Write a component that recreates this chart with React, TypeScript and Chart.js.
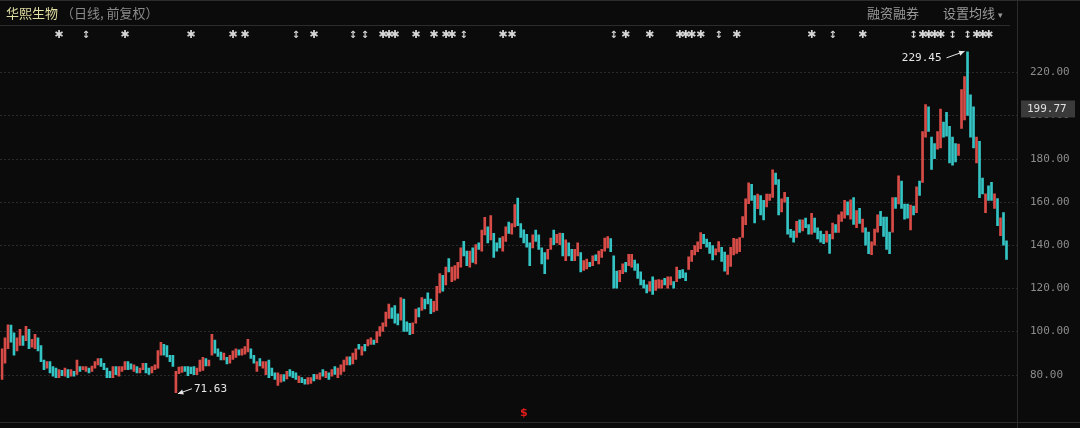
import React, { useEffect, useRef } from 'react';
import { Chart, registerables } from 'chart.js';

Chart.register(...registerables);

// ---- data ----
const opens = [
  77.8, 85.3, 92, 103, 99.4, 91, 93.5, 98, 95.7, 101,
  92.7, 92, 97, 93.5, 86.8, 83, 86, 83.8, 83, 78.6,
  82, 79.3, 82.3, 79.3, 81.5, 80.1, 83.8, 82.3, 81.5, 83,
  81.5, 83, 84.5, 87.5, 85.3, 83, 81.5, 78.6, 83.8, 79.3,
  81.5, 82.3, 86, 85, 81.5, 83.8, 80.8, 82.3, 85.3, 83,
  80.8, 82.3, 83, 89, 94, 93.5, 89, 89, 71.63, 80.5,
  81, 83.8, 83.8, 83.5, 83.8, 80, 81.5, 82, 87.5, 84,
  89, 96, 92, 90.5, 86.8, 88, 85.3, 87, 88, 91.5,
  89, 89.5, 90.5, 92, 89, 81.5, 87.5, 83, 80, 86.8,
  83, 80.8, 75, 76.5, 80, 78, 82.3, 81.5, 80.8, 76.3,
  78.6, 77.8, 75.6, 76, 80.1, 78, 77.8, 82.3, 78.6, 80.8,
  79.3, 83.8, 78.6, 80.1, 81.5, 84.5, 88.2, 85, 87, 94,
  89, 94, 93.3, 94, 96, 94.8, 97.8, 100, 102.3, 106,
  111, 112, 108.2, 105.2, 115, 104.5, 103.8, 99, 103.8, 111,
  109.7, 115, 117.9, 115, 109, 109.7, 117.9, 126, 121.6, 133.8,
  123.1, 123.8, 124.6, 129.8, 141.7, 137.2, 129.8, 138.7, 131.3, 141,
  137.2, 144.7, 148.4, 142.4, 145.4, 141, 143.2, 137.2, 141.7, 150.6,
  145, 148.4, 161.8, 150, 147, 145, 141, 138.7, 146.9, 144.7,
  138.7, 136.5, 133.5, 138, 146.9, 141, 140.2, 145.4, 132.8, 141,
  138, 132.8, 135, 136.5, 128.3, 129, 132, 130.5, 135.5, 131.3,
  134.3, 137.2, 138.7, 143, 135, 128, 123.1, 126.8, 132, 130.5,
  129.8, 133, 131.3, 127.6, 123.8, 121.6, 118.6, 125.3, 119, 120,
  120.1, 124.6, 120.1, 121.6, 123.1, 123.1, 128.3, 128.7, 127.2, 128.7,
  132.4, 135.4, 137, 138.3, 145, 142.8, 141.3, 139.8, 135.4, 136.8,
  139, 136.8, 126.4, 130.1, 135.4, 136.1, 137, 143.5, 149.5, 159.2,
  168.1, 162.9, 156.9, 162.9, 160.7, 157.7, 160.7, 162.1, 173.3, 170.3,
  155.4, 159.9, 162.1, 147.3, 146.5, 143.5, 151.7, 146.5, 152.5, 149.5,
  145, 152.5, 148, 146.5, 145, 141.3, 145, 142.8, 149.5, 145.8,
  151, 152.5, 160, 152, 162, 148, 157, 146, 148, 146,
  135.5, 140, 146, 155.6, 153, 153, 146, 146, 162, 159,
  169.6, 159, 159, 147, 158, 155, 169.6, 169, 190, 204,
  190, 187, 184.4, 185, 197, 201.5, 195, 190, 187, 181.5,
  194, 198, 229.45, 209.6, 204, 178, 188, 171, 155, 167.4,
  169, 157, 161.5, 144.4, 155, 142,
];

const closes = [
  92, 97, 103.1, 95, 89, 97, 101, 93.5, 102.4, 92,
  96.4, 98.7, 91, 86, 82.3, 86, 80.8, 79.3, 78.6, 82.3,
  79.5, 83, 78.6, 82.3, 79.3, 86.8, 81.5, 83.8, 83.8, 80.8,
  84, 86, 87.5, 83.8, 82.3, 78.6, 78.6, 83.8, 80, 83.8,
  83.8, 86, 82.3, 82.5, 84.5, 80.8, 83, 85.3, 80.8, 80.1,
  83.8, 84.5, 91.2, 95, 89, 88.2, 86, 83.8, 81.5, 83.5,
  83.8, 81.5, 79.5, 80.5, 80, 83, 86.8, 88, 84, 86.8,
  98.7, 90, 88.5, 86.8, 90, 85, 89, 91, 92, 89,
  92, 93, 96.4, 87.5, 85.3, 86, 84, 86, 86, 78.6,
  79.5, 77.8, 80.8, 80, 77, 81.5, 79.3, 78.6, 77.8, 79.3,
  76.3, 75.6, 78.6, 78.6, 77.1, 80, 80.8, 79.3, 81.5, 77.8,
  82.3, 80.1, 83, 84.5, 86.8, 88.2, 84.5, 90, 92, 91.8,
  93, 91, 96.3, 97, 94, 100, 102.3, 104, 109, 112.7,
  106, 103.8, 103, 115.7, 100, 100, 98.5, 104, 110.4, 106.7,
  115.7, 110.4, 112.7, 108.2, 114, 120.9, 126.8, 118.6, 129.8, 127.6,
  129.8, 130.5, 132, 138.7, 135, 130.5, 137.2, 132, 140.2, 138,
  146.9, 152.9, 141, 153.6, 134.3, 137.2, 138.7, 143.9, 148.4, 145.4,
  149.9, 158.8, 149, 143.5, 141, 139, 130.5, 144.7, 141.7, 138,
  131.3, 126.8, 138, 143.2, 140.2, 145, 145.5, 135, 142.4, 135,
  132.8, 138, 141, 127.6, 132.8, 133.5, 130, 135, 132.8, 137.2,
  138, 143.2, 143.9, 137, 120.1, 120, 128.3, 131.3, 127.6, 135.7,
  135.7, 128.3, 124.6, 121.6, 120.1, 117.9, 123.1, 117.1, 123.8, 124,
  123.8, 121.6, 125.3, 125.3, 120.1, 129.8, 124.6, 124.9, 123.5, 134.6,
  137.6, 139.8, 141.5, 145.8, 140.6, 139, 136.1, 133.1, 138.3, 141.6,
  132.4, 127.9, 135.4, 139, 143.1, 142.8, 143.5, 153.2, 161.4, 168.8,
  160.7, 150.2, 163.6, 154, 151.7, 163.6, 163.6, 174.8, 168.1, 154,
  161.4, 164.4, 145, 143.5, 141.3, 151, 145.8, 151.7, 148, 145,
  154.7, 145.8, 142.8, 141.3, 140.6, 146.5, 136.1, 150.2, 145.8, 154,
  155.4, 160.7, 154, 161, 149.6, 156, 150, 152, 140, 136,
  141.5, 147.4, 154, 149, 144, 138, 136, 162, 157, 172,
  157, 152, 152.5, 158.5, 154, 167, 163, 192.6, 205, 192.6,
  175, 180, 192.6, 203, 190, 190.4, 178, 177, 178.5, 186.7,
  212, 218, 200, 190, 185, 190, 162, 163.7, 163.7, 160.7,
  160.7, 163.7, 149, 152.6, 140, 133.3,
];

const yTicks = [80, 100, 120, 140, 160, 180, 200, 220];
const slotCount = 339;

const markerIdx = [19, 28, 41, 63, 77, 81, 98, 104, 117, 121, 127, 129, 131, 138, 144, 148, 150, 154, 167, 170,
  204, 208, 216, 226, 228, 230, 233, 239, 245, 270, 277, 287, 304, 307, 309, 311, 313, 317, 322, 325, 327, 329];
const markerSym = ['✱', '↕', '✱', '✱', '✱', '✱', '↕', '✱', '↕', '↕', '✱', '✱', '✱', '✱', '✱', '✱', '✱', '↕', '✱', '✱',
  '↕', '✱', '✱', '✱', '✱', '✱', '✱', '↕', '✱', '✱', '↕', '✱', '↕', '✱', '✱', '✱', '✱', '↕', '↕', '✱', '✱', '✱'];

const highIdx = 322;
const highVal = 229.45;
const lowIdx = 58;
const lowVal = 71.63;
const lastPrice = 199.77;
const dollarIdx = 174;

const RED = '#d84c48';
const TEAL = '#35c4c4';
const BG = '#0b0b0b';

function arrow(ctx: CanvasRenderingContext2D, x1: number, y1: number, x2: number, y2: number) {
  ctx.save();
  ctx.strokeStyle = '#e6e6e6';
  ctx.fillStyle = '#e6e6e6';
  ctx.lineWidth = 1;
  ctx.beginPath();
  ctx.moveTo(x1, y1);
  ctx.lineTo(x2, y2);
  ctx.stroke();
  const a = Math.atan2(y2 - y1, x2 - x1);
  const L = 6;
  ctx.beginPath();
  ctx.moveTo(x2, y2);
  ctx.lineTo(x2 - L * Math.cos(a - 0.45), y2 - L * Math.sin(a - 0.45));
  ctx.lineTo(x2 - L * Math.cos(a + 0.45), y2 - L * Math.sin(a + 0.45));
  ctx.closePath();
  ctx.fill();
  ctx.restore();
}

const overlay = {
  id: 'overlay',
  beforeDraw(chart: any) {
    const { ctx, chartArea, scales } = chart;
    const W = chart.width;
    const H = chart.height;
    ctx.save();
    ctx.fillStyle = BG;
    ctx.fillRect(0, 0, W, H);
    ctx.strokeStyle = '#2c2c2c';
    ctx.lineWidth = 1;
    ctx.beginPath();
    ctx.moveTo(0, 0.5); ctx.lineTo(W, 0.5);
    ctx.moveTo(0, 25.5); ctx.lineTo(1010, 25.5);
    ctx.moveTo(0, 422.5); ctx.lineTo(W, 422.5);
    ctx.moveTo(1017.5, 0); ctx.lineTo(1017.5, H);
    ctx.stroke();
    const y = scales.y;
    ctx.strokeStyle = '#4c4c4c';
    ctx.setLineDash([1, 3]);
    for (const v of yTicks) {
      const py = Math.round(y.getPixelForValue(v)) + 0.5;
      ctx.beginPath();
      ctx.moveTo(chartArea.left, py);
      ctx.lineTo(chartArea.right, py);
      ctx.stroke();
    }
    ctx.restore();
  },
  afterDraw(chart: any) {
    const { ctx, scales } = chart;
    const x = scales.x;
    const y = scales.y;
    ctx.save();
    // markers row
    ctx.fillStyle = '#d6d6d6';
    ctx.textAlign = 'center';
    ctx.textBaseline = 'middle';
    markerIdx.forEach((idx, k) => {
      const s = markerSym[k];
      ctx.font = s === '✱' ? '11px "DejaVu Sans"' : 'bold 10px "DejaVu Sans"';
      ctx.fillText(s, x.getPixelForValue(idx), 35);
    });
    // high annotation
    const hx = x.getPixelForValue(highIdx);
    const hy = y.getPixelForValue(highVal);
    arrow(ctx, hx - 21, hy + 6, hx - 3, hy - 0.5);
    ctx.fillStyle = '#e6e6e6';
    ctx.font = '11px "DejaVu Sans Mono"';
    ctx.textAlign = 'right';
    ctx.textBaseline = 'middle';
    ctx.fillText(highVal.toFixed(2), hx - 26, hy + 6);
    // low annotation
    const lx = x.getPixelForValue(lowIdx);
    const ly = y.getPixelForValue(lowVal);
    arrow(ctx, lx + 16, ly - 4, lx + 2, ly + 1);
    ctx.textAlign = 'left';
    ctx.fillText(lowVal.toFixed(2), lx + 18, ly - 4);
    // last price box
    const py = y.getPixelForValue(lastPrice) - 7;
    ctx.fillStyle = '#3a3a3a';
    ctx.fillRect(1021, py - 8.5, 54, 17);
    ctx.fillStyle = '#e0e0e0';
    ctx.textAlign = 'left';
    ctx.fillText(lastPrice.toFixed(2), 1027, py);
    // dollar mark
    ctx.fillStyle = '#e41b1b';
    ctx.font = 'bold 11px "DejaVu Sans"';
    ctx.textAlign = 'center';
    ctx.fillText('$', x.getPixelForValue(dollarIdx), 413);
    ctx.restore();
  },
};

export default function App() {
  const ref = useRef<HTMLCanvasElement | null>(null);
  useEffect(() => {
    document.body.style.margin = '0';
    document.body.style.background = BG;
    const canvas = ref.current;
    if (!canvas) return;
    const labels = Array.from({ length: slotCount }, (_, i) => String(i));
    const chart = new Chart(canvas, {
      type: 'bar',
      data: {
        labels,
        datasets: [
          {
            data: opens.map((o, i) => [o, closes[i]]) as any,
            backgroundColor: opens.map((o, i) => (closes[i] >= o ? RED : TEAL)),
            barThickness: 2,
            borderWidth: 0,
            grouped: false,
          } as any,
        ],
      },
      options: {
        responsive: false,
        animation: false,
        devicePixelRatio: 1,
        layout: { padding: { top: 45, bottom: 6, left: 0.5, right: 0 } },
        plugins: { legend: { display: false }, tooltip: { enabled: false } },
        scales: {
          x: { type: 'category', display: false, grid: { display: false } },
          y: {
            position: 'right',
            min: 64.38,
            max: 232.63,
            grid: { display: false, drawTicks: false },
            border: { display: false },
            ticks: {
              padding: 13,
              color: '#8c8c8c',
              font: { family: 'DejaVu Sans Mono', size: 11 },
              callback: (v: any) => Number(v).toFixed(2),
            },
            afterBuildTicks: (s: any) => {
              s.ticks = yTicks.map((v) => ({ value: v }));
            },
            afterFit: (s: any) => {
              s.width = 63;
            },
          } as any,
        },
      },
      plugins: [overlay],
    });
    return () => chart.destroy();
  }, []);

  const cjk = '"Noto Sans CJK SC", "Noto Sans", sans-serif';
  return (
    <div style={{ position: 'fixed', left: 0, top: 0, width: 1080, height: 428, background: BG, overflow: 'hidden' }}>
      <canvas ref={ref} width={1080} height={428} style={{ position: 'absolute', left: 0, top: 0, width: 1080, height: 428 }} />
      <div style={{ position: 'absolute', left: 6, top: 4, fontFamily: cjk, fontSize: 13, lineHeight: '18px', whiteSpace: 'nowrap' }}>
        <span style={{ color: '#e2dfa4' }}>华熙生物</span>
        <span style={{ color: '#8a8a8a', marginLeft: 3 }}>（日线, 前复权）</span>
      </div>
      <div style={{ position: 'absolute', left: 867, top: 4, fontFamily: cjk, fontSize: 13, lineHeight: '18px', color: '#9a9a9a', whiteSpace: 'nowrap' }}>
        融资融券
      </div>
      <div style={{ position: 'absolute', left: 943, top: 4, fontFamily: cjk, fontSize: 13, lineHeight: '18px', color: '#9a9a9a', whiteSpace: 'nowrap' }}>
        设置均线 <span style={{ fontSize: 9 }}>▾</span>
      </div>
    </div>
  );
}
